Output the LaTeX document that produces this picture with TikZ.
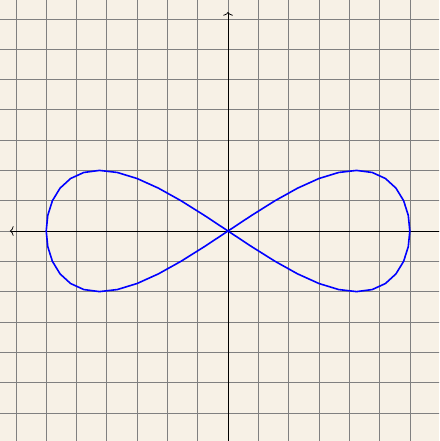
\documentclass[tikz,border=0pt]{standalone}
\usetikzlibrary{arrows.meta}
\definecolor{paper}{HTML}{F7F1E6}
\begin{document}
\begin{tikzpicture}[
  gridline/.style={draw=black!50, line width=0.6pt},
  axisline/.style={draw=black, line width=0.7pt, -{To[length=3.5pt,width=9pt]}},
  curveline/.style={draw=blue, line width=1.5pt, line join=round}
]
\useasboundingbox (-7.525,-6.93) rectangle (6.963,7.624);
\fill[paper] (-7.525,-6.93) rectangle (6.963,7.624);
\clip (-7.525,-6.93) rectangle (6.963,7.624);
\draw[gridline] (-8,-7) grid (7,8);
\coordinate (ybot) at (0,-7);
\coordinate (ytop) at (0,7.23);
\coordinate (xright) at (7,0);
\coordinate (xleft) at (-7.2,0);
\draw[axisline] (ybot) -- (ytop);
\draw[axisline] (xright) -- (xleft);
\draw[curveline] plot[domain=0:360, samples=49] ({6*cos(\x)}, {2*sin(2*\x)}) -- cycle;
\end{tikzpicture}
\end{document}
